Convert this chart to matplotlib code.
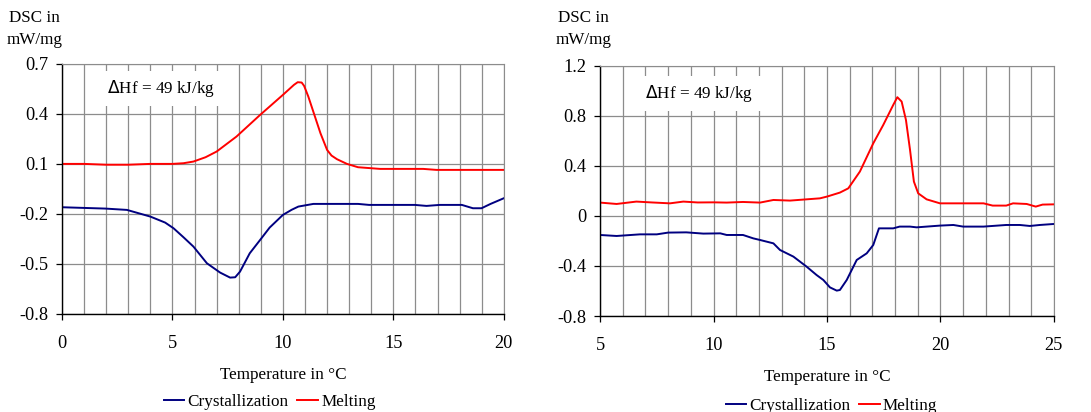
import numpy as np
import matplotlib.pyplot as plt

plt.rcParams['font.family'] = ['Liberation Serif', 'DejaVu Serif']

# left panel: temperature in C, DSC in mW/mg
t_melt_a = [0, 1, 2, 3, 4, 5, 5.5, 5.95, 6.5, 7, 7.9, 8.97, 9.4, 10.0, 10.3, 10.5, 10.67,
            10.85, 10.96, 11.15, 11.4, 11.7, 12.0, 12.2, 12.45, 12.9, 13.4, 14.4, 16.35,
            16.95, 20]
dsc_melt_a = [0.1, 0.1, 0.095, 0.095, 0.1, 0.1, 0.104, 0.114, 0.14, 0.174, 0.264, 0.394,
              0.444, 0.514, 0.55, 0.574, 0.59, 0.588, 0.568, 0.504, 0.404, 0.284, 0.184,
              0.15, 0.128, 0.1, 0.08, 0.07, 0.07, 0.064, 0.064]
t_cryst_a = [0, 1.96, 2.94, 4.0, 4.67, 5.05, 5.5, 5.95, 6.56, 7.16, 7.61, 7.84, 8.06, 8.5,
             8.97, 9.4, 10.0, 10.4, 10.7, 11.38, 13.4, 13.9, 15.97, 16.5, 17.1, 18.1,
             18.6, 18.99, 19.4, 20]
dsc_cryst_a = [-0.16, -0.168, -0.176, -0.216, -0.252, -0.286, -0.34, -0.396, -0.496,
               -0.552, -0.582, -0.58, -0.546, -0.436, -0.356, -0.282, -0.206, -0.175,
               -0.156, -0.14, -0.14, -0.146, -0.146, -0.152, -0.146, -0.146, -0.166,
               -0.166, -0.14, -0.106]

# right panel
t_melt_b = [5, 5.73, 6.6, 7.3, 8.08, 8.67, 9.3, 10, 10.58, 11.3, 12.05, 12.64, 13.37,
            14.1, 14.69, 15, 15.57, 15.94, 16.45, 17.04, 17.48, 17.92, 18.1, 18.29,
            18.48, 18.66, 18.83, 19.02, 19.39, 19.98, 21.9, 22.3, 22.9, 23.2, 23.8,
            24.2, 24.5, 25]
dsc_melt_b = [0.107, 0.096, 0.115, 0.108, 0.101, 0.115, 0.108, 0.109, 0.107, 0.112,
              0.107, 0.128, 0.123, 0.133, 0.141, 0.155, 0.187, 0.221, 0.355, 0.581,
              0.728, 0.888, 0.95, 0.915, 0.768, 0.528, 0.275, 0.181, 0.133, 0.101,
              0.101, 0.083, 0.083, 0.101, 0.096, 0.075, 0.091, 0.093]
t_cryst_b = [5, 5.73, 6.76, 7.5, 8.0, 8.8, 9.55, 10.3, 10.58, 11.3, 11.75, 12.05, 12.64,
             12.93, 13.52, 14.1, 14.54, 14.84, 15.13, 15.43, 15.57, 15.87, 16.31,
             16.75, 17.04, 17.29, 17.92, 18.2, 18.66, 18.95, 19.98, 20.57, 21.0, 21.9,
             22.9, 23.5, 23.94, 24.38, 25]
dsc_cryst_b = [-0.152, -0.16, -0.147, -0.147, -0.133, -0.131, -0.141, -0.139, -0.152,
               -0.152, -0.179, -0.192, -0.219, -0.272, -0.325, -0.405, -0.472, -0.512,
               -0.571, -0.597, -0.592, -0.512, -0.352, -0.299, -0.232, -0.099, -0.099,
               -0.085, -0.085, -0.091, -0.077, -0.072, -0.085, -0.085, -0.072, -0.072,
               -0.08, -0.072, -0.064]

panels = [
    dict(rect=[0.0568, 0.238, 0.405, 0.607], xlim=(0, 20), ylim=(-0.8, 0.7),
         yticks=np.arange(-0.8, 0.71, 0.3), ylabels=['-0.8', '-0.5', '-0.2', '0.1', '0.4', '0.7'],
         tc=t_cryst_a, dc=dsc_cryst_a, tm=t_melt_a, dm=dsc_melt_a,
         ann=(2.05, 0.555), ylab_x=0.032, leg=(0.47, -0.26)),
    dict(rect=[0.550, 0.233, 0.416, 0.607], xlim=(5, 25), ylim=(-0.8, 1.2),
         yticks=np.arange(-0.8, 1.21, 0.4), ylabels=['-0.8', '-0.4', '0', '0.4', '0.8', '1.2'],
         tc=t_cryst_b, dc=dsc_cryst_b, tm=t_melt_b, dm=dsc_melt_b,
         ann=(7.0, 0.98), ylab_x=0.535, leg=(0.51, -0.265)),
]

fs = 12.3
fig = plt.figure(figsize=(10.91, 4.12), dpi=100)
for p in panels:
    ax = fig.add_axes(p['rect'])
    ax.plot(p['tc'], p['dc'], color='#000080', lw=1.4, label='Crystallization')
    ax.plot(p['tm'], p['dm'], color='#ff0000', lw=1.4, label='Melting')
    ax.set_xlim(*p['xlim'])
    ax.set_ylim(*p['ylim'])
    ax.set_xticks(np.arange(p['xlim'][0], p['xlim'][1] + 0.1, 5))
    ax.set_xticks(np.arange(p['xlim'][0], p['xlim'][1] + 0.1, 1), minor=True)
    ax.set_yticks(p['yticks'])
    ax.set_yticklabels(p['ylabels'])
    ax.grid(True, which='both', axis='x', color='#8c8c8c', lw=0.9)
    ax.grid(True, which='major', axis='y', color='#8c8c8c', lw=0.9)
    ax.set_axisbelow(True)
    ax.tick_params(which='major', length=4, width=0.9, labelsize=13.2, pad=6)
    ax.tick_params(which='minor', length=0)
    ax.tick_params(axis='x', pad=11)
    for s in ['top', 'right']:
        ax.spines[s].set_color('#8c8c8c')
    ax.spines['left'].set_linewidth(1.0)
    ax.spines['bottom'].set_linewidth(1.0)
    ax.text(p['ann'][0], p['ann'][1], r'$\Delta$Hf = 49 kJ/kg', fontsize=fs,
            va='center', ha='left',
            bbox=dict(facecolor='white', edgecolor='none', pad=5))
    ax.set_xlabel('Temperature in °C', fontsize=fs, labelpad=11)
    fig.text(p['ylab_x'], 0.975, 'DSC in\nmW/mg', fontsize=fs, ha='center', va='top',
             linespacing=1.5)
    ax.legend(loc='upper center', bbox_to_anchor=p['leg'], ncol=2, frameon=False,
              fontsize=fs, handlelength=1.2, handletextpad=0.2, columnspacing=0.5)

plt.savefig('out.png', dpi=100)
